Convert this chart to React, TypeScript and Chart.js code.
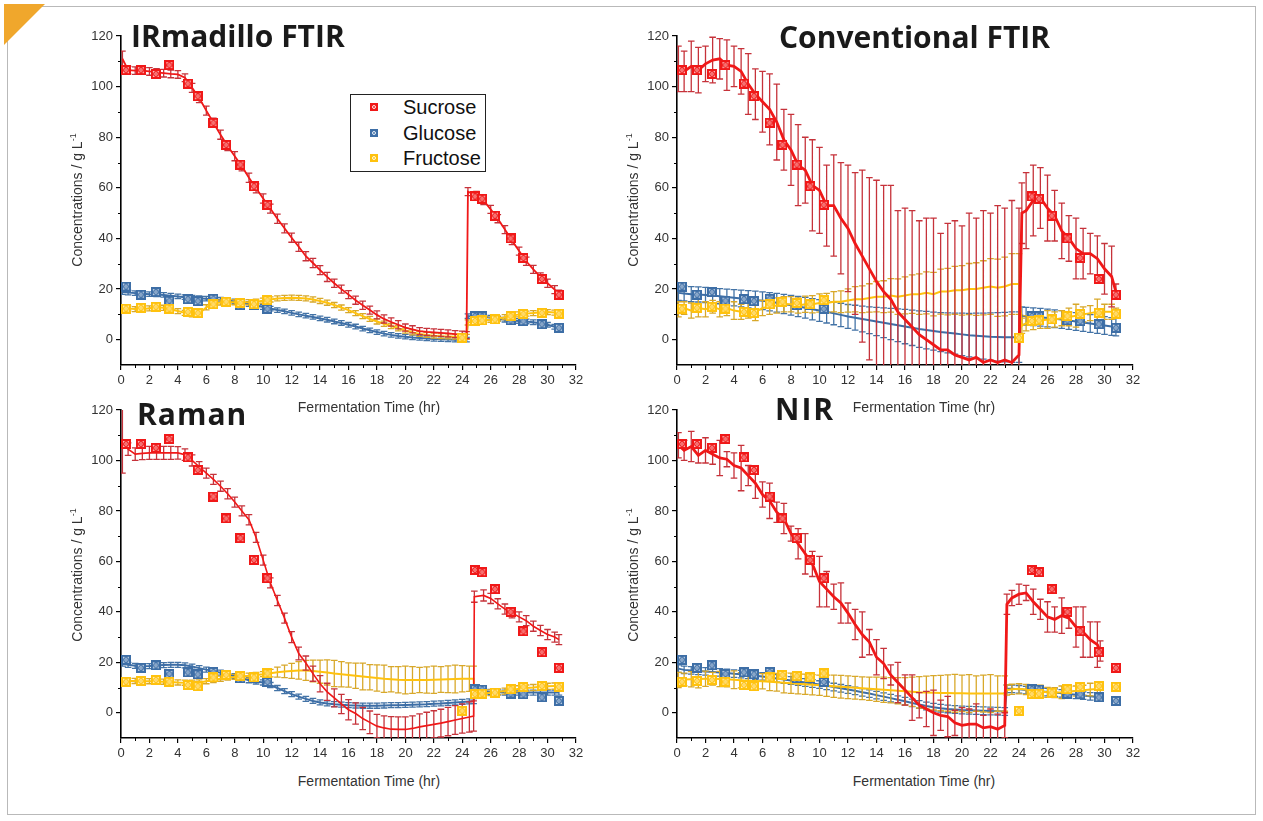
import React, { useEffect, useRef } from 'react';
import { Chart, registerables } from 'chart.js';

Chart.register(...registerables);
Chart.defaults.font.family = "'Liberation Sans', Arial, sans-serif";
Chart.defaults.color = '#333';

// ---------- axis ticks ----------
const xTicks = [0, 2, 4, 6, 8, 10, 12, 14, 16, 18, 20, 22, 24, 26, 28, 30, 32];
const xMinor = [1, 3, 5, 7, 9, 11, 13, 15, 17, 19, 21, 23, 25, 27, 29, 31];
const yTicks = [0, 20, 40, 60, 80, 100, 120];
const yMinor = [10, 30, 50, 70, 90, 110];

// ---------- offline reference samples (same in every panel) ----------
const refTime = [0.35, 1.4, 2.45, 3.4, 4.7, 5.4, 6.5, 7.4, 8.4, 9.35, 10.3, 24.0, 24.9, 25.4, 26.3, 27.4, 28.3, 29.6, 30.8];
const refSucrose = [106.5, 106.5, 105, 108.5, 101.2, 96.2, 85.7, 77, 69.2, 60.6, 53.3, 0.8, 56.6, 55.7, 49, 40, 32.3, 24, 17.8];
const refGlucose = [21, 17.8, 18.8, 15.4, 16, 15.2, 16.2, 15, 13.6, 13.8, 12.2, 0.6, 9.3, 9.2, 8, 7.6, 7.3, 6.1, 4.7];
const refFructose = [12.3, 12.6, 13, 12.3, 11, 10.5, 14, 15, 14.5, 14, 15.6, 0.8, 7.4, 7.6, 8, 9.3, 10.2, 10.6, 10.3];

// ---------- IRmadillo FTIR ----------
const irTime = [0.1, 0.5, 1, 1.5, 2, 2.5, 3, 3.5, 4, 4.5, 5, 5.5, 6, 6.5, 7, 7.5, 8, 8.5, 9, 9.5, 10, 10.5, 11, 11.5, 12, 12.5, 13, 13.5, 14, 14.5, 15, 15.5, 16, 16.5, 17, 17.5, 18, 18.5, 19, 19.5, 20, 20.5, 21, 21.5, 22, 22.5, 23, 23.5, 24, 24.3, 24.4, 25, 25.5, 26, 26.5, 27, 27.5, 28, 28.5, 29, 29.5, 30, 30.5, 30.8];
const irSucrose = [111, 106.5, 106.3, 106.3, 106, 105.6, 105.3, 105, 104.8, 103.5,
  99.5, 95.5, 90.5, 85.7, 81, 76.5, 72.5, 68.5, 64, 59.8,
  55.8, 51.8, 47.8, 44, 40.3, 36.7, 33, 30.3, 27.5, 24.8,
  22.3, 20, 17.8, 15.6, 13.6, 11.7, 9.8, 8.2, 7, 5.9,
  4.8, 4.1, 3.4, 3.1, 2.9, 2.7, 2.5, 2.2, 2, 1.8,
  58.5, 57, 55, 51.5, 47.8, 43.5, 39.2, 35, 31, 27.8, 24.8, 22.3, 19.8, 18];
const irSucroseErr = [3, 1.5, 1.5, 1.5, 1.5, 1.5, 1.5, 1.5, 1.5, 1.5,
  1.8, 1.8, 1.8, 1.8, 1.8, 1.8, 1.8, 1.8, 1.8, 1.8,
  1.8, 1.8, 1.8, 1.8, 1.8, 1.8, 1.8, 1.8, 1.8, 1.8,
  1.6, 1.6, 1.6, 1.6, 1.6, 1.6, 1.6, 1.6, 1.6, 1.6,
  1.4, 1.4, 1.4, 1.4, 1.4, 1.4, 1.4, 1.4, 1.4, 1.4,
  1.6, 1.6, 1.6, 1.6, 1.6, 1.6, 1.6, 1.6, 1.6, 1.6, 1.6, 1.6, 1.6, 1.6];
const irGlucose = [18.8, 18.6, 18.4, 18.2, 18, 17.9, 17.7, 17.4, 17.1, 16.8,
  16.6, 16.4, 16.2, 16, 15.8, 15.5, 15.1, 14.6, 14.1, 13.5,
  12.9, 12.3, 11.7, 11.2, 10.6, 10, 9.5, 9, 8.4, 7.9,
  7.2, 6.6, 5.9, 5.2, 4.4, 3.7, 3, 2.4, 1.9, 1.5,
  1.2, 0.9, 0.7, 0.5, 0.3, 0.2, 0.1, 0, 0, 0,
  9.3, 9.3, 9.1, 8.7, 8.3, 7.9, 7.6, 7.4, 7.2, 6.9, 6.5, 5.9, 5.1, 4.6];
const irGlucoseErr = [0.9, 0.9, 0.9, 0.9, 0.9, 0.9, 0.9, 0.9, 0.9, 0.9,
  0.9, 0.9, 0.9, 0.9, 0.9, 0.9, 0.9, 0.9, 0.9, 0.9,
  0.9, 0.9, 0.9, 0.9, 0.9, 0.9, 0.9, 0.9, 0.9, 0.9,
  0.9, 0.9, 0.9, 0.9, 0.9, 0.9, 0.9, 0.9, 0.9, 0.9,
  0.9, 0.9, 0.9, 0.9, 0.9, 0.9, 0.9, 0.9, 0.9, 0.9,
  0.9, 0.9, 0.9, 0.9, 0.9, 0.9, 0.9, 0.9, 0.9, 0.9, 0.9, 0.9, 0.9, 0.9];
const irFructose = [12.5, 12.3, 12.1, 12, 12.4, 12.8, 12.6, 12, 11.3, 10.6,
  10, 10.3, 12.8, 14.4, 14.7, 14.8, 14.8, 14.8, 14.8, 15,
  15.4, 15.9, 16.3, 16.5, 16.6, 16.5, 16.3, 15.9, 15.3, 14.6,
  13.7, 12.7, 11.7, 10.5, 9.3, 8.2, 7.2, 6.3, 5.4, 4.5,
  3.6, 2.9, 2.3, 1.9, 1.6, 1.4, 1.3, 1.2, 1.1, 1.1,
  6.8, 7.4, 7.7, 7.9, 8.3, 8.9, 9.5, 10, 10.3, 10.5, 10.8, 10.9, 10.7, 10.6];
const irFructoseErr = [1, 1, 1, 1, 1, 1, 1, 1, 1, 1,
  1, 1, 1, 1, 1, 1, 1, 1, 1, 1,
  1, 1, 1, 1, 1, 1, 1, 1, 1, 1,
  1, 1, 1, 1, 1, 1, 1, 1, 1, 1,
  1, 1, 1, 1, 1, 1, 1, 1, 1, 1,
  1, 1, 1, 1, 1, 1, 1, 1, 1, 1, 1, 1, 1, 1];

// ---------- Conventional FTIR ----------
const cvTime = [0.1, 0.5, 1, 1.5, 2, 2.5, 3, 3.5, 4, 4.5, 5, 5.5, 6, 6.5, 7, 7.5, 8, 8.5, 9, 9.5, 10, 10.5, 11, 11.5, 12, 12.5, 13, 13.5, 14, 14.5, 15, 15.5, 16, 16.5, 17, 17.5, 18, 18.5, 19, 19.5, 20, 20.5, 21, 21.5, 22, 22.5, 23, 23.5, 24, 24.2, 24.5, 25, 25.5, 26, 26.5, 27, 27.5, 28, 28.5, 29, 29.5, 30, 30.5, 30.8];
const cvSucrose = [107, 106, 108, 106.5, 109, 110.5, 111, 108.5, 108, 106,
  101, 97, 94, 91, 86, 79, 75, 69, 67, 61,
  59, 53, 53, 48, 44, 38, 33, 28, 23, 19,
  16, 11, 8, 5, 2, 0, -2, -4, -4, -6,
  -7, -8, -7, -9, -8, -9, -8, -9, -6,
  50, 51, 55, 56, 52, 49, 43, 40, 36, 34, 34, 32, 28, 25, 19];
const cvSucroseErr = [9, 8, 10, 9, 7, 9, 8, 10, 8, 9,
  12, 10, 12, 14, 15, 12, 14, 16, 13, 18,
  17, 16, 20, 22, 25, 28, 34, 36, 40, 42,
  45, 40, 44, 46, 45, 48, 50, 46, 50, 53,
  52, 58, 55, 60, 58, 62, 60, 64, 58,
  12, 15, 14, 12, 13, 10, 11, 9, 12, 10, 8, 9, 10, 12, 3];
const cvGlucose = [18.5, 18.3, 18, 17.9, 17.7, 17.5, 17.2, 16.9, 16.6, 16.3,
  16, 15.7, 15.4, 15, 14.6, 14.1, 13.6, 13.1, 12.6, 12,
  11.5, 11, 10.4, 9.8, 9.2, 8.7, 8.2, 7.7, 7.2, 6.7,
  6.2, 5.7, 5.2, 4.7, 4.2, 3.8, 3.4, 3, 2.7, 2.4,
  2.1, 1.8, 1.6, 1.4, 1.2, 1.1, 1, 1, 1,
  9.5, 9.3, 9.1, 8.9, 8.6, 8.3, 8, 7.6, 7.2, 6.8, 6.4, 6, 5.6, 5.2, 5];
const cvGlucoseErr = [3, 3, 3, 3, 3, 3, 3, 3.1, 3.2, 3.3,
  3.4, 3.5, 3.5, 3.6, 3.7, 3.8, 3.9, 4, 4.1, 4.2,
  4.3, 4.4, 4.5, 4.6, 4.7, 4.9, 5.1, 5.3, 5.6, 5.9,
  6.2, 6.5, 6.8, 7, 7.2, 7.4, 7.5, 7.7, 7.9, 8.1,
  8.4, 8.6, 8.9, 9.1, 9.4, 9.6, 9.8, 10, 10,
  3.5, 3.5, 3.5, 3.5, 3.5, 3.5, 3.5, 3.5, 3.5, 3.5, 3.5, 3.5, 3.5, 3.5, 3.5];
const cvFructose = [12, 12.5, 11.5, 12.5, 12, 13, 12, 12.5, 11.5, 11,
  11.5, 11, 12.5, 13, 13.5, 14, 14, 13.5, 14, 14,
  14.5, 14.5, 15, 15, 15.5, 16, 16, 16.5, 17, 17,
  17.5, 17, 17.5, 18, 18, 18.5, 18, 19, 19, 19.5,
  19.5, 20, 20, 20.5, 21, 20.5, 21, 22, 22,
  5.5, 6.5, 7, 7.5, 8, 8, 8.5, 9, 9.5, 10, 10.5, 11, 11, 11, 10.5];
const cvFructoseErr = [3, 2.5, 3, 3.5, 3, 2.5, 3, 3, 3.5, 3,
  3, 3.5, 3, 3, 3, 3, 3, 3, 3.2, 3.4,
  3.6, 3.8, 4, 4.3, 4.6, 5, 5.3, 5.6, 6, 6.3,
  6.6, 7, 7.3, 7.6, 8, 8.3, 8.6, 8.9, 9.2, 9.5,
  9.8, 10.1, 10.4, 10.7, 11, 11.3, 11.6, 12, 12,
  3, 3, 3, 3, 3.5, 3, 3, 3.5, 4.5, 3, 3, 5, 3, 3, 2];

// ---------- Raman ----------
const rmTime = [0.1, 0.5, 1, 1.5, 2, 2.5, 3, 3.5, 4, 4.5, 5, 5.5, 6, 6.5, 7, 7.5, 8, 8.5, 9, 9.5, 10, 10.5, 11, 11.5, 12, 12.5, 13, 13.5, 14, 14.5, 15, 15.5, 16, 16.5, 17, 17.5, 18, 18.5, 19, 19.5, 20, 20.5, 21, 21.5, 22, 22.5, 23, 23.5, 24, 24.5, 24.8, 24.85, 25.5, 26, 26.5, 27, 27.5, 28, 28.5, 29, 29.5, 30, 30.5, 30.8];
const rmSucrose = [108, 104.5, 102.5, 102.8, 103, 103, 103, 103, 103, 102.3,
  100, 97.5, 95, 92.5, 89.8, 86.8, 83.5, 80, 76.5, 69.5,
  60.5, 51.5, 44.5, 37.5, 30, 23.5, 19.7, 15.5, 11.5, 8.3,
  5.9, 3.5, 1.2, -0.3, -2.3, -3.8, -5.3, -6, -6.5, -6.6,
  -6.6, -6.2, -5.6, -5.1, -4.6, -4.1, -3.5, -2.9, -2.3, -1.7,
  -1.3,
  46, 46.5, 45.3, 43.2, 41.1, 39.6, 38, 36.5, 34.3, 32.6, 31, 30, 29];
const rmSucroseErr = [13, 2.5, 2.5, 2.5, 2.6, 2.6, 2.6, 2.6, 2.5, 2.3,
  2.2, 2, 2, 2, 2, 2, 2, 2, 2, 2,
  2, 2, 2, 2, 2.2, 2.5, 2.8, 3, 3.2, 3.4,
  3.6, 3.8, 4, 4.2, 4.4, 4.5, 4.7, 4.8, 5, 5,
  5, 5, 5.2, 5.3, 5.4, 5.5, 5.6, 5.7, 5.8, 6,
  6,
  2.2, 2.2, 2, 2, 2, 2, 2, 2, 2, 2, 2, 2, 2];
const rmGlucose = [19.5, 19, 18.6, 18.4, 18.5, 18.7, 18.9, 19, 19, 18.8,
  18.3, 17.7, 17.1, 16.5, 15.9, 15.2, 14.5, 13.7, 12.9, 12.4,
  12, 11, 9.8, 8.6, 7.4, 6.4, 5.5, 4.7, 4.1, 3.7,
  3.4, 3.2, 3, 2.9, 2.8, 2.8, 2.8, 2.9, 3, 3,
  3.1, 3.2, 3.3, 3.4, 3.6, 3.7, 3.9, 4.1, 4.3, 4.5,
  4.6,
  9, 8.6, 8.3, 8.1, 8, 8, 8, 8, 8, 8, 8, 8, 8];
const rmGlucoseErr = [1, 1, 1, 1, 1, 1, 1, 1, 1, 1,
  1, 1, 1, 1, 1, 1, 1, 1, 1, 1,
  1, 1, 1, 1, 1, 1, 1, 1, 1, 1,
  1, 1, 1, 1, 1, 1, 1, 1, 1, 1,
  1, 1, 1, 1, 1, 1, 1, 1, 1, 1,
  1,
  1, 1, 1, 1, 1, 1, 1, 1, 1, 1, 1, 1, 1];
const rmFructose = [12.5, 12.6, 12.6, 12.5, 12.5, 12.4, 12.3, 12.2, 12, 11.9,
  11.9, 12, 12.5, 13, 13.5, 13.9, 14.2, 14.4, 14.7, 15,
  15.3, 15.7, 16.1, 16.4, 16.6, 16.8, 16.8, 16.6, 16.3, 16,
  15.6, 15.3, 15, 14.7, 14.4, 14.1, 13.8, 13.5, 13.3, 13.1,
  13, 13, 13, 13, 13.1, 13.2, 13.3, 13.4, 13.5, 13.5,
  13.5,
  7, 7.5, 8, 8.3, 8.6, 9, 9.5, 9.8, 10, 10.3, 10.5, 10.6, 10.6];
const rmFructoseErr = [1, 1, 1, 1, 1, 1, 1, 1, 1, 1,
  1, 1, 1, 1, 1, 1, 1, 1, 1, 1,
  1, 1.5, 2, 2.5, 3, 3.5, 4, 4.3, 4.6, 5,
  5.2, 5, 4.8, 5, 5.3, 5, 5.2, 5.4, 5, 5.2,
  5.5, 5.3, 5, 5.2, 5.4, 5.1, 5.3, 5.5, 5.2, 5,
  5,
  1.2, 1.2, 1.2, 1.2, 1.2, 1.2, 1.2, 1.2, 1.2, 1.2, 1.2, 1.2, 1.2];

// ---------- NIR ----------
const nirTime = [0.1, 0.5, 1, 1.5, 2, 2.5, 3, 3.5, 4, 4.5, 5, 5.5, 6, 6.5, 7, 7.5, 8, 8.5, 9, 9.5, 10, 10.5, 11, 11.5, 12, 12.5, 13, 13.5, 14, 14.5, 15, 15.5, 16, 16.5, 17, 17.5, 18, 18.5, 19, 19.5, 20, 20.5, 21, 21.5, 22, 22.5, 23, 23.15, 23.5, 24, 24.5, 25, 25.5, 26, 26.5, 27, 27.5, 28, 28.5, 29, 29.5, 29.7];
const nirSucrose = [106, 104, 105.5, 102, 104, 102.5, 101, 100.5, 98, 97,
  94, 91, 86.5, 84, 79.5, 77, 71, 67, 63, 59,
  52, 49, 46, 43.5, 39.5, 35, 31, 28, 22, 19.5,
  15, 12, 9, 6, 3, 1.5, 0, -1, -1.5, -4,
  -5, -4.5, -4.5, -6, -5.5, -6.5, -5,
  43,
  45.5, 47, 47.5, 44, 41, 38, 37, 38.5, 37.5, 34, 32, 29, 27, 24.5];
const nirSucroseErr = [5, 4, 6, 3, 5, 4, 7, 3, 5, 9,
  4, 6, 5, 7, 4, 6, 3, 6, 8, 5,
  10, 7, 5, 8, 4, 6, 9, 5, 7, 6,
  4, 8, 6, 9, 5, 7, 9, 6, 8, 5,
  7, 6, 8, 5, 7, 6, 5,
  4,
  3, 4, 3, 5, 4, 6, 5, 7, 4, 8, 10, 7, 9, 4];
const nirGlucose = [17.5, 17, 16.8, 16.6, 16.4, 16.2, 16, 15.8, 15.5, 15.3,
  15, 14.7, 14.4, 14, 13.6, 13.2, 12.8, 12.4, 12, 11.6,
  11.2, 10.7, 10.2, 9.7, 9.2, 8.7, 8.1, 7.6, 7, 6.4,
  5.8, 5.2, 4.6, 3.9, 3.3, 2.7, 2.2, 1.8, 1.5, 1.3,
  1.1, 1, 0.9, 0.8, 0.7, 0.6, 0.5,
  9.5,
  9.5, 9.3, 9, 8.8, 8.5, 8.2, 8, 7.7, 7.4, 7.1, 6.8, 6.5, 6.2, 6];
const nirGlucoseErr = [1.5, 1.5, 1.5, 1.5, 1.5, 1.5, 1.5, 1.5, 1.5, 1.5,
  1.5, 1.5, 1.5, 1.5, 1.5, 1.5, 1.5, 1.5, 1.5, 1.5,
  1.5, 1.5, 1.5, 1.5, 1.5, 1.5, 1.5, 1.5, 1.5, 1.5,
  1.5, 1.5, 1.5, 1.5, 1.5, 1.5, 1.5, 1.5, 1.5, 1.5,
  1.5, 1.5, 1.5, 1.5, 1.5, 1.5, 1.5,
  1.5,
  1.5, 1.5, 1.5, 1.5, 1.5, 1.5, 1.5, 1.5, 1.5, 1.5, 1.5, 1.5, 1.5, 1.5];
const nirFructose = [13, 13.2, 13.3, 13.4, 13.5, 13.5, 13.4, 13.3, 13.1, 12.9,
  12.7, 12.6, 12.5, 12.3, 12.1, 11.9, 11.7, 11.5, 11.3, 11.1,
  10.9, 10.7, 10.5, 10.3, 10.1, 9.9, 9.7, 9.5, 9.3, 9.1,
  8.9, 8.7, 8.5, 8.3, 8.1, 8, 7.9, 7.8, 7.8, 7.7,
  7.7, 7.6, 7.6, 7.6, 7.6, 7.6, 7.6,
  9,
  9.3, 9.5, 9.2, 8.8, 8.4, 8.1, 8, 8.1, 8.3, 8.6, 8.9, 9.2, 9.4, 9.5];
const nirFructoseErr = [3, 2.5, 3, 3.5, 3, 2.5, 3, 3, 3.5, 3,
  3, 3.5, 3, 3.5, 3.5, 4, 4, 4, 4, 4,
  4, 4.2, 4.4, 4.5, 4.5, 4.5, 4.5, 4.6, 4.8, 5,
  5, 5.2, 5.4, 5.8, 6.2, 6.5, 6.8, 7, 7.2, 7.5,
  7.2, 7.5, 7, 7.3, 7.5, 7, 7,
  2,
  2, 2, 2, 2, 2.5, 2, 2, 2.5, 2, 2, 2, 2.5, 2, 2];

// ---------- colours ----------
const RED = '#f01818';
const RED_BAR = '#c6323a';
const BLUE = '#3d6ea6';
const BLUE_BAR = '#4373a6';
const GOLD = '#ffc20e';
const GOLD_BAR = '#d8a82a';

function makeIcon(color: string) {
  const s = 10;
  const c = document.createElement('canvas');
  c.width = s;
  c.height = s;
  const g = c.getContext('2d')!;
  g.fillStyle = color;
  g.fillRect(0, 0, s, s);
  g.fillStyle = 'rgba(255,255,255,0.75)';
  g.fillRect(2, 2, s - 4, s - 4);
  g.strokeStyle = color;
  g.lineWidth = 1.3;
  g.beginPath();
  g.arc(s / 2, s / 2, 2.3, 0, Math.PI * 2);
  g.stroke();
  g.fillStyle = color;
  g.fillRect(s / 2 - 0.7, s / 2 - 0.7, 1.4, 1.4);
  return c;
}

const errorBars = {
  id: 'errorBars',
  beforeDatasetDraw(chart: any, args: any) {
    const ds = chart.data.datasets[args.index];
    if (!ds.errors) return;
    const { ctx, chartArea: a, scales } = chart;
    const xs = scales.x;
    const ys = scales.y;
    ctx.save();
    ctx.beginPath();
    ctx.rect(a.left, a.top, a.right - a.left, a.bottom - a.top);
    ctx.clip();
    ctx.strokeStyle = ds.errColor;
    ctx.lineWidth = 1.3;
    ctx.beginPath();
    ds.data.forEach((p: any, i: number) => {
      const e = ds.errors[i] ?? 0;
      const px = xs.getPixelForValue(p.x);
      const y1 = ys.getPixelForValue(p.y - e);
      const y2 = ys.getPixelForValue(p.y + e);
      const cap = 3.3;
      ctx.moveTo(px, y1);
      ctx.lineTo(px, y2);
      ctx.moveTo(px - cap, y1);
      ctx.lineTo(px + cap, y1);
      ctx.moveTo(px - cap, y2);
      ctx.lineTo(px + cap, y2);
    });
    ctx.stroke();
    ctx.restore();
  },
};

const minorTicks = {
  id: 'minorTicks',
  afterDraw(chart: any) {
    const { ctx, chartArea: a, scales } = chart;
    ctx.save();
    ctx.strokeStyle = '#000';
    ctx.lineWidth = 1;
    ctx.beginPath();
    xMinor.forEach((v) => {
      const px = Math.round(scales.x.getPixelForValue(v)) + 0.5;
      ctx.moveTo(px, a.bottom);
      ctx.lineTo(px, a.bottom + 3);
    });
    yMinor.forEach((v) => {
      const py = Math.round(scales.y.getPixelForValue(v)) + 0.5;
      ctx.moveTo(a.left, py);
      ctx.lineTo(a.left - 3, py);
    });
    ctx.stroke();
    ctx.restore();
  },
};

type PanelProps = {
  left: number; top: number; width: number; height: number;
  area: { left: number; top: number; right: number; bottom: number };
  time: number[];
  suc: number[]; sucErr: number[];
  glu: number[]; gluErr: number[];
  fru: number[]; fruErr: number[];
  lw: number;
};

function Panel(p: PanelProps) {
  const ref = useRef<HTMLCanvasElement>(null);
  useEffect(() => {
    if (!ref.current) return;
    const yWidth = p.area.left - p.left;
    const padTop = p.area.top - p.top;
    const padRight = p.left + p.width - p.area.right;
    const xHeight = p.top + p.height - p.area.bottom;
    const pts = (vals: number[]) => p.time.map((t, i) => ({ x: t, y: vals[i] }));
    const refPts = (vals: number[]) => refTime.map((t, i) => ({ x: t, y: vals[i] }));
    const axisCommon = {
      type: 'linear',
      grid: { drawOnChartArea: false, drawTicks: true, tickLength: 5, color: '#000', lineWidth: 1.2 },
      border: { display: true, color: '#000', width: 1.6 },
    };
    const chart = new Chart(ref.current, {
      type: 'line',
      data: {
        datasets: [
          { label: 'Fructose (ref)', type: 'scatter', data: refPts(refFructose), pointStyle: makeIcon(GOLD), order: 0 } as any,
          { label: 'Glucose (ref)', type: 'scatter', data: refPts(refGlucose), pointStyle: makeIcon(BLUE), order: 1 } as any,
          { label: 'Sucrose (ref)', type: 'scatter', data: refPts(refSucrose), pointStyle: makeIcon(RED), order: 2 } as any,
          { label: 'Sucrose', data: pts(p.suc), borderColor: RED, borderWidth: p.lw, pointRadius: 0, errors: p.sucErr, errColor: RED_BAR, order: 3 } as any,
          { label: 'Fructose', data: pts(p.fru), borderColor: GOLD, borderWidth: 2, pointRadius: 0, errors: p.fruErr, errColor: GOLD_BAR, order: 4 } as any,
          { label: 'Glucose', data: pts(p.glu), borderColor: BLUE, borderWidth: 2, pointRadius: 0, errors: p.gluErr, errColor: BLUE_BAR, order: 5 } as any,
        ],
      },
      options: {
        animation: false,
        responsive: false,
        events: [],
        layout: { padding: { top: padTop, right: padRight, left: 0, bottom: 0 } },
        plugins: { legend: { display: false }, tooltip: { enabled: false } },
        scales: {
          x: {
            ...axisCommon,
            min: 0, max: 32,
            afterBuildTicks: (s: any) => { s.ticks = xTicks.map((v) => ({ value: v })); },
            afterFit: (s: any) => { s.height = xHeight; },
            ticks: { font: { size: 13 }, color: '#333', padding: 3, maxRotation: 0, autoSkip: false },
          },
          y: {
            ...axisCommon,
            min: -10, max: 120,
            afterBuildTicks: (s: any) => { s.ticks = yTicks.map((v) => ({ value: v })); },
            afterFit: (s: any) => { s.width = yWidth; },
            ticks: { font: { size: 13 }, color: '#333', padding: 3 },
          },
        } as any,
      },
      plugins: [errorBars, minorTicks],
    } as any);
    return () => chart.destroy();
  }, []);
  return (
    <canvas
      ref={ref}
      width={p.width}
      height={p.height}
      style={{ position: 'absolute', left: p.left, top: p.top, width: p.width, height: p.height }}
    />
  );
}

const titleStyle: React.CSSProperties = {
  position: 'absolute',
  fontFamily: "'Open Sans', 'Liberation Sans', sans-serif",
  fontWeight: 700,
  fontSize: 30,
  lineHeight: '30px',
  color: '#1a1a1a',
  whiteSpace: 'nowrap',
};

function YTitle({ x, y }: { x: number; y: number }) {
  return (
    <div
      style={{
        position: 'absolute', left: x, top: y, transform: 'translate(-50%,-50%) rotate(-90deg)',
        whiteSpace: 'nowrap', fontSize: 14, color: '#333', lineHeight: '16px',
      }}
    >
      Concentrations / g L<sup style={{ fontSize: 9, lineHeight: 0, verticalAlign: '6px' }}>-1</sup>
    </div>
  );
}

function XTitle({ x, y }: { x: number; y: number }) {
  return (
    <div
      style={{
        position: 'absolute', left: x, top: y, transform: 'translate(-50%,-50%)',
        whiteSpace: 'nowrap', fontSize: 14, color: '#333', lineHeight: '16px',
      }}
    >
      Fermentation Time (hr)
    </div>
  );
}

function LegendIcon({ color }: { color: string }) {
  return (
    <span
      style={{
        position: 'absolute', left: 19, width: 8, height: 8, background: color,
        transform: 'translateY(-50%)', boxSizing: 'border-box',
      }}
    >
      <span
        style={{
          position: 'absolute', left: 2, top: 2, width: 4, height: 4, borderRadius: '50%',
          border: '1px solid rgba(255,255,255,0.9)', boxSizing: 'border-box',
        }}
      />
    </span>
  );
}

const legendItems = [
  { label: 'Sucrose', color: RED },
  { label: 'Glucose', color: BLUE },
  { label: 'Fructose', color: GOLD },
];

export default function App() {
  return (
    <div
      style={{
        position: 'absolute', left: 0, top: 0, width: 1263, height: 821, background: '#fff', overflow: 'hidden',
        fontFamily: "'Liberation Sans', Arial, sans-serif",
      }}
    >
      <div style={{ position: 'absolute', left: 7, top: 6, width: 1249, height: 809, border: '1.5px solid #b9b9b9', boxSizing: 'border-box' }} />
      <div style={{ position: 'absolute', left: 4, top: 4, width: 0, height: 0, borderTop: '41px solid #f0a72c', borderRight: '41px solid transparent' }} />

      <Panel left={20} top={20} width={580} height={372} area={{ left: 121, top: 36, right: 576, bottom: 365 }}
        time={irTime} suc={irSucrose} sucErr={irSucroseErr} glu={irGlucose} gluErr={irGlucoseErr} fru={irFructose} fruErr={irFructoseErr} lw={1.8} />
      <Panel left={600} top={20} width={580} height={372} area={{ left: 677, top: 36, right: 1133, bottom: 365 }}
        time={cvTime} suc={cvSucrose} sucErr={cvSucroseErr} glu={cvGlucose} gluErr={cvGlucoseErr} fru={cvFructose} fruErr={cvFructoseErr} lw={2.8} />
      <Panel left={20} top={395} width={580} height={372} area={{ left: 121, top: 410, right: 576, bottom: 738 }}
        time={rmTime} suc={rmSucrose} sucErr={rmSucroseErr} glu={rmGlucose} gluErr={rmGlucoseErr} fru={rmFructose} fruErr={rmFructoseErr} lw={1.6} />
      <Panel left={600} top={395} width={580} height={372} area={{ left: 677, top: 410, right: 1133, bottom: 738 }}
        time={nirTime} suc={nirSucrose} sucErr={nirSucroseErr} glu={nirGlucose} gluErr={nirGlucoseErr} fru={nirFructose} fruErr={nirFructoseErr} lw={2.8} />

      <div style={{ ...titleStyle, left: 131, top: 21 }}>IRmadillo FTIR</div>
      <div style={{ ...titleStyle, left: 779, top: 22 }}>Conventional FTIR</div>
      <div style={{ ...titleStyle, left: 137, top: 399, letterSpacing: 1 }}>Raman</div>
      <div style={{ ...titleStyle, left: 775, top: 394, letterSpacing: 2 }}>NIR</div>

      <YTitle x={77} y={200} />
      <YTitle x={633} y={200} />
      <YTitle x={77} y={575} />
      <YTitle x={633} y={575} />
      <XTitle x={369} y={407} />
      <XTitle x={924} y={407} />
      <XTitle x={369} y={781} />
      <XTitle x={924} y={781} />

      <div style={{ position: 'absolute', left: 350, top: 94, width: 136, height: 78, border: '1.5px solid #222', boxSizing: 'border-box', background: '#fff' }}>
        {legendItems.map((it, i) => (
          <div key={it.label} style={{ position: 'absolute', left: 0, top: 12 + i * 25.5, width: '100%', height: 0 }}>
            <LegendIcon color={it.color} />
            <span style={{ position: 'absolute', left: 52, top: -12, fontSize: 20, lineHeight: '24px', color: '#111', whiteSpace: 'nowrap' }}>
              {it.label}
            </span>
          </div>
        ))}
      </div>
    </div>
  );
}
